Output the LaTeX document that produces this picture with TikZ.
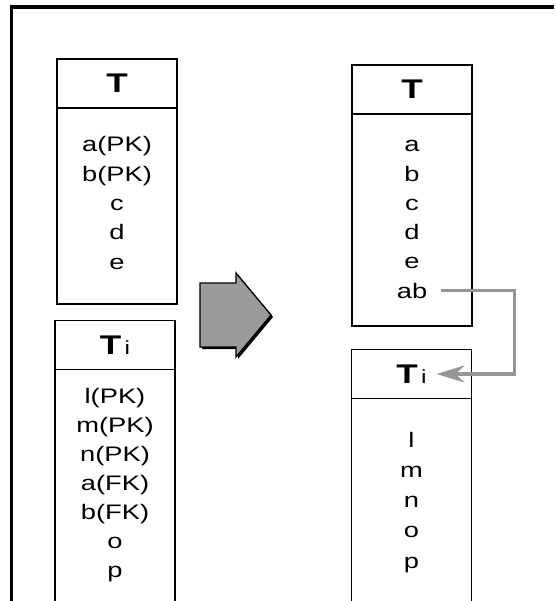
\documentclass[tikz,border=0pt]{standalone}
\usepackage{fontspec}
\setmainfont{Liberation Sans}[FakeStretch=1.3]
\usetikzlibrary{arrows.meta,positioning,calc}
\tikzset{>=Stealth}
\definecolor{FKcolor}{RGB}{150,150,150}
\definecolor{ARcolor}{RGB}{155,155,155}
\tikzset{
  tblhead/.style={draw,line width=1.1pt,minimum width=120pt,minimum height=49pt,
    inner sep=0pt,outer sep=0pt,font=\fontsize{27}{30}\selectfont\bfseries},
  tblbody/.style={draw,line width=1.1pt,minimum width=120pt,inner sep=0pt,outer sep=0pt},
  field/.style={anchor=base,inner sep=0pt,font=\fontsize{21}{25}\selectfont},
  fkline/.style={draw=FKcolor,line width=3.5pt,->,
    >={Stealth[length=28pt,width=17pt,inset=9pt]}}
}
\newcommand{\subi}{{\mdseries\fontsize{19}{22}\selectfont\,i}}

\begin{document}
\begin{tikzpicture}[x=1pt,y=-1pt]
\useasboundingbox (0,0) rectangle (554,601);
\clip (0,0) rectangle (554,601);
% frame
\draw[line width=3.2pt] (554,7) -- (11.5,7) -- (11.5,601);

% tables before
\node[tblhead] (lt) at (117,83.5) {T};
\node[tblbody,minimum height=196pt,below=0pt of lt] (ltb) {};
\foreach \f [count=\i] in {a(PK),b(PK),c,d,e}
  \node[field] (lt-\i) at (117,{152+(\i-1)*29.3}) {\f};

\node[tblhead] (li) at (115,345) {T\subi};
\node[tblbody,minimum height=300pt,below=0pt of li] (lib) {};
\foreach \f [count=\i] in {l(PK),m(PK),n(PK),a(FK),b(FK),o,p}
  \node[field] (li-\i) at (115,{403+(\i-1)*29}) {\f};

% big arrow
\fill[black] (202,285) -- (238,285) -- (238,275) -- (273,317) -- (238,359) -- (238,349) -- (202,349) -- cycle;
\draw[line width=1.3pt,fill=ARcolor] (200,283) -- (236,283) -- (236,273) -- (271,315)
  -- (236,357) -- (236,347) -- (200,347) -- cycle;

% tables after
\node[tblhead] (rt) at (412,89.5) {T};
\node[tblbody,minimum height=212pt,below=0pt of rt] (rtb) {};
\foreach \f [count=\i] in {a,b,c,d,e,ab}
  \node[field] (rt-\i) at (412,{152+(\i-1)*29.2}) {\f};

\node[tblhead] (ri) at (411.5,374) {T\subi};
\node[tblbody,minimum height=300pt,below=0pt of ri] (rib) {};
\foreach \f [count=\i] in {l,m,n,o,p}
  \node[field] (ri-\i) at (411.5,{447+(\i-1)*30.3}) {\f};

% reference ab -> Ti
\draw[fkline] ([xshift=14pt]rt-6.east) -| ([xshift=43pt]ri.east) -- ([xshift=-35pt]ri.east);
\end{tikzpicture}
\end{document}
